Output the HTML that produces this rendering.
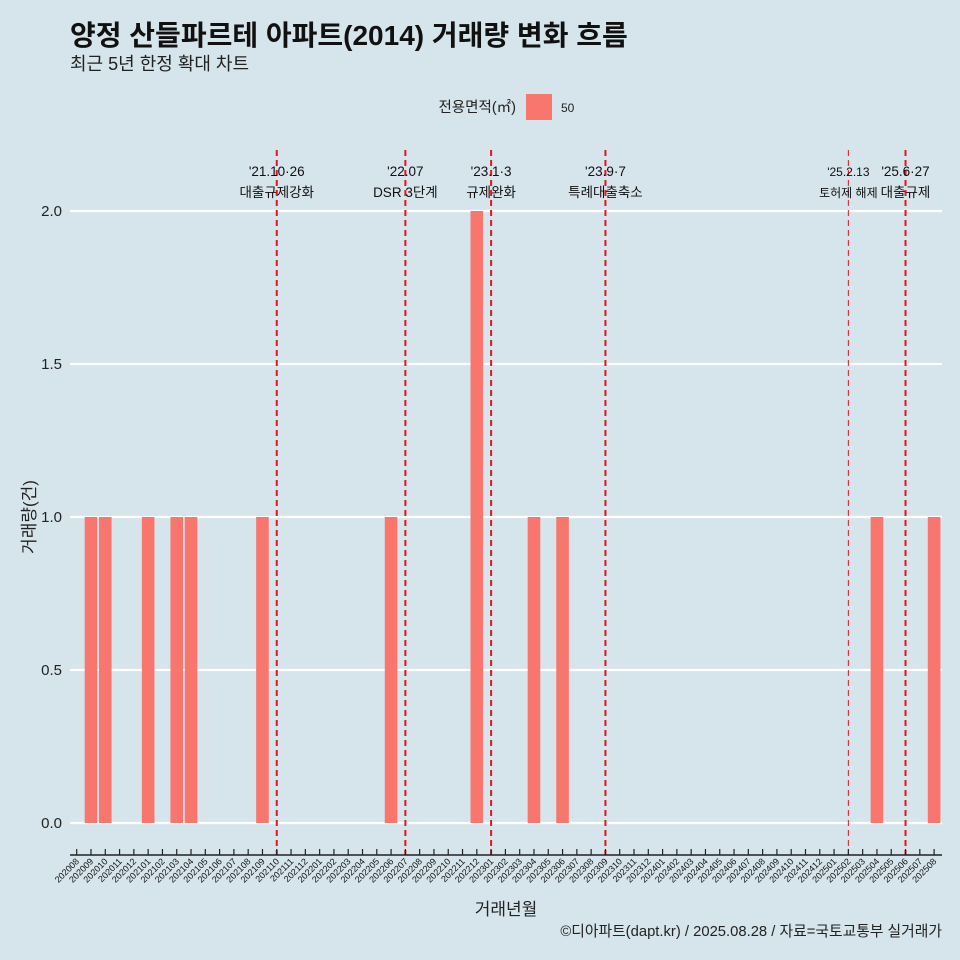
<!DOCTYPE html>
<html><head><meta charset="utf-8">
<style>
body{margin:0;background:#d6e4eb;}
svg{display:block;font-family:"Liberation Sans","Noto Sans CJK KR",sans-serif;}
</style></head>
<body>
<svg id="chart" width="960" height="960">
<rect width="960" height="960" fill="#d6e4eb"/>
<text x="70" y="45" font-size="28" font-weight="bold" fill="#111">양정 산들파르테 아파트(2014) 거래량 변화 흐름</text>
<text x="70" y="70" font-size="18" fill="#222">최근 5년 한정 확대 차트</text>
<g>
<text x="516" y="112" font-size="14.5" text-anchor="end" fill="#222">전용면적(㎡)</text>
<rect x="526" y="94" width="26" height="26" fill="#f8766d"/>
<text x="561" y="112" font-size="12" fill="#222">50</text>
</g>
<g id="grid"></g><g id="bars"></g><g id="events"></g><g id="axes"></g>
<text x="35" y="517" font-size="17" fill="#222" text-anchor="middle" transform="rotate(-90 35 517)">거래량(건)</text>
<text x="506" y="915" font-size="17" fill="#222" text-anchor="middle">거래년월</text>
<text x="942" y="936" font-size="14.8" fill="#222" text-anchor="end">©디아파트(dapt.kr) / 2025.08.28 / 자료=국토교통부 실거래가</text>
</svg>
<script>
const months=[];for(let y=2020;y<=2025;y++)for(let m=1;m<=12;m++){const k=y*100+m;if(k>=202008&&k<=202508)months.push(String(k));}
const barMonths=["202009","202010","202101","202103","202104","202109","202206","202212","202304","202306","202504","202508"];
const barValues=[1,1,1,1,1,1,1,2,1,1,1,1];
const yTicks=[0,0.5,1,1.5,2];
const yTickLabels=["0.0","0.5","1.0","1.5","2.0"];
const eventMonths=["202110","202207","202301","202309","202502","202506"];
const eventDates=["'21.10·26","'22.07","'23.1·3","'23.9·7","'25.2.13","'25.6·27"];
const eventLabels=["대출규제강화","DSR 3단계","규제완화","특례대출축소","토허제 해제","대출규제"];
const NS="http://www.w3.org/2000/svg";
function mk(t,a,p){const e=document.createElementNS(NS,t);for(const k in a)e.setAttribute(k,a[k]);p.appendChild(e);return e;}
const x=i=>76.7+14.29*i, y=v=>823-306*v;
const grid=document.getElementById('grid'),bars=document.getElementById('bars'),ev=document.getElementById('events'),ax=document.getElementById('axes');
yTicks.forEach((v,i)=>{
 const l=mk('line',{x1:70,x2:942,y1:y(v),y2:y(v),stroke:'#fff','stroke-width':2.2},grid);
 
 
 const t=mk('text',{x:62,y:y(v)+5,'font-size':15,'text-anchor':'end',fill:'#222'},ax);t.textContent=yTickLabels[i];
 
 
});
barMonths.forEach((m,i)=>{
 const idx=months.indexOf(m);const w=12.6;
 const r=mk('rect',{x:x(idx)-w/2,y:y(barValues[i]),width:w,height:y(0)-y(barValues[i]),fill:'#f8766d'},bars);
 
 
});
eventMonths.forEach((m,i)=>{
 const xi=x(months.indexOf(m));const thin=m==="202502";
 const l=mk('line',{x1:xi,x2:xi,y1:150,y2:855,stroke:'#e8141c','stroke-width':thin?1:2,'stroke-dasharray':'6,4'},ev);
 
 
 const fs=thin?12:13.5;
 const t1=mk('text',{x:xi,y:176,'font-size':fs,'text-anchor':'middle',fill:'#111'},ev);t1.textContent=eventDates[i];
 
 
 const t2=mk('text',{x:xi,y:197,'font-size':fs,'text-anchor':'middle',fill:'#111'},ev);t2.textContent=eventLabels[i];
 
 
});
const axl=mk('line',{x1:70,x2:942,y1:855,y2:855,stroke:'#222','stroke-width':1.4},ax);


months.forEach((m,i)=>{
 const xi=x(i);
 const tk=mk('line',{x1:xi,x2:xi,y1:849,y2:855,stroke:'#222','stroke-width':1.2},ax);
 
 
 const t=mk('text',{x:xi+3,y:862,'font-size':9,'text-anchor':'end',fill:'#111',transform:`rotate(-45 ${xi+3} 862)`},ax);t.textContent=m;
 
 
});
</script>
</body></html>
